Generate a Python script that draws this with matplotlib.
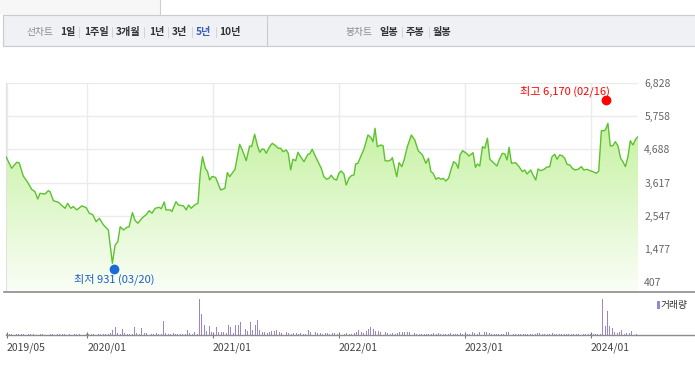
import numpy as np
import pandas as pd
import matplotlib
matplotlib.use('Agg')
from matplotlib import pyplot as plt
from matplotlib.patches import Rectangle
from matplotlib.lines import Line2D
from matplotlib.transforms import offset_copy

plt.rcParams['font.family'] = ['Noto Sans CJK KR', 'DejaVu Sans']

# ---- data -------------------------------------------------------------
# price line (date in decimal years, close)
price_t = [
    2019.356, 2019.401, 2019.441, 2019.461, 2019.493, 2019.525, 2019.560, 2019.586, 2019.608, 2019.626,
    2019.666, 2019.692, 2019.706, 2019.732, 2019.772, 2019.825, 2019.846, 2019.870, 2019.891, 2019.918,
    2019.958, 2019.992, 2020.018, 2020.045, 2020.072, 2020.098, 2020.125, 2020.143, 2020.169, 2020.201,
    2020.223, 2020.244, 2020.263, 2020.289, 2020.316, 2020.334, 2020.360, 2020.382, 2020.403, 2020.435,
    2020.475, 2020.493, 2020.515, 2020.541, 2020.573, 2020.589, 2020.613, 2020.626, 2020.660, 2020.674,
    2020.706, 2020.726, 2020.766, 2020.788, 2020.806, 2020.827, 2020.854, 2020.881, 2020.899, 2020.917,
    2020.939, 2020.957, 2020.973, 2020.992, 2021.008, 2021.021, 2021.061, 2021.095, 2021.114, 2021.133,
    2021.175, 2021.212, 2021.233, 2021.264, 2021.291, 2021.307, 2021.331, 2021.352, 2021.371, 2021.391,
    2021.405, 2021.423, 2021.450, 2021.471, 2021.498, 2021.518, 2021.538, 2021.556, 2021.582, 2021.598,
    2021.617, 2021.635, 2021.657, 2021.675, 2021.696, 2021.723, 2021.754, 2021.768, 2021.788, 2021.815,
    2021.842, 2021.860, 2021.881, 2021.903, 2021.921, 2021.939, 2021.961, 2021.982, 2022.000, 2022.018,
    2022.040, 2022.058, 2022.080, 2022.098, 2022.120, 2022.133, 2022.151, 2022.173, 2022.199, 2022.231,
    2022.253, 2022.271, 2022.287, 2022.305, 2022.332, 2022.351, 2022.367, 2022.391, 2022.412, 2022.425,
    2022.444, 2022.460, 2022.478, 2022.500, 2022.518, 2022.544, 2022.576, 2022.603, 2022.630, 2022.651,
    2022.664, 2022.691, 2022.712, 2022.731, 2022.749, 2022.771, 2022.791, 2022.811, 2022.829, 2022.850,
    2022.871, 2022.890, 2022.911, 2022.930, 2022.948, 2022.962, 2022.983, 2023.013, 2023.034, 2023.066,
    2023.085, 2023.101, 2023.119, 2023.141, 2023.159, 2023.180, 2023.199, 2023.225, 2023.256, 2023.278,
    2023.299, 2023.318, 2023.336, 2023.352, 2023.371, 2023.405, 2023.431, 2023.458, 2023.476, 2023.495,
    2023.524, 2023.542, 2023.564, 2023.582, 2023.603, 2023.630, 2023.649, 2023.675, 2023.693, 2023.715,
    2023.733, 2023.754, 2023.773, 2023.794, 2023.812, 2023.834, 2023.855, 2023.873, 2023.900, 2023.927,
    2023.945, 2023.971, 2023.993, 2024.018, 2024.045, 2024.064, 2024.085, 2024.111, 2024.119, 2024.137,
    2024.156, 2024.177, 2024.196, 2024.217, 2024.238, 2024.256, 2024.276, 2024.296, 2024.315, 2024.336,
    2024.357, 2024.376,
]
price_v = [
    4450, 4076, 4270, 4250, 3828, 3643, 3398, 3320, 3085, 3268,
    3246, 3353, 3320, 3031, 2979, 2785, 2946, 2785, 2840, 2733,
    2862, 2808, 2626, 2581, 2355, 2463, 2279, 2191, 2085, 1010,
    1601, 1708, 2191, 2085, 2170, 2191, 2645, 2388, 2302, 2463,
    2601, 2709, 2626, 2785, 2817, 2770, 2988, 2733, 2733, 2680,
    3000, 2892, 2862, 2733, 2892, 2785, 2892, 2946, 3919, 4450,
    4076, 3968, 3698, 3806, 3800, 3780, 3376, 3430, 3935, 3806,
    4043, 4850, 4667, 4321, 4796, 4774, 5173, 4828, 4592, 4699,
    4690, 4560, 4774, 4882, 4806, 4721, 4721, 4613, 4667, 4560,
    4022, 4367, 4321, 4592, 4450, 4289, 4528, 4540, 4689, 4450,
    4230, 4076, 3806, 3721, 3753, 3852, 3731, 3698, 3914, 3989,
    3892, 3537, 3753, 3837, 3860, 4215, 4237, 4450, 4689, 5151,
    5076, 4935, 5367, 4774, 4828, 4806, 4321, 4311, 4344, 4418,
    4076, 3806, 4257, 4128, 4344, 4774, 5151, 4990, 4645, 4560,
    4505, 4237, 4398, 3968, 3914, 3721, 3774, 3721, 3753, 3666,
    3753, 4022, 4289, 4237, 4076, 4505, 4645, 4560, 4473, 4580,
    4108, 4215, 4150, 4774, 4721, 5044, 4367, 4270, 4150, 4398,
    4560, 4540, 4344, 4753, 4237, 4257, 4128, 3968, 4022, 3892,
    4022, 3860, 3698, 4054, 4000, 4043, 4108, 4128, 4450, 4528,
    4367, 4505, 4485, 4398, 4205, 4183, 4076, 4022, 4043, 4128,
    4022, 4043, 4000, 3968, 3914, 3989, 5290, 5290, 5335, 5528,
    4796, 4806, 4935, 4796, 4398, 4289, 4128, 4450, 4967, 4828,
    5012, 5097,
]

# weekly volume (relative, peak week = 100), first week 2019-05-13
vol_start = '2019-05-13'
volume = [
    3, 3, 2, 0, 3, 3, 3, 2, 3, 3,
    2, 3, 0, 0, 3, 2, 0, 0, 3, 3,
    3, 4, 3, 2, 3, 0, 2, 0, 3, 2,
    3, 0, 2, 3, 3, 3, 2, 3, 3, 2,
    3, 3, 4, 5, 14, 22, 6, 4, 17, 6,
    4, 3, 3, 22, 5, 4, 19, 6, 5, 4,
    4, 3, 5, 3, 3, 38, 5, 4, 3, 6,
    4, 3, 3, 4, 3, 14, 5, 4, 7, 4,
    100, 57, 29, 10, 24, 9, 57, 21, 8, 8,
    7, 6, 29, 21, 6, 27, 29, 35, 19, 17,
    12, 35, 14, 27, 41, 13, 9, 8, 6, 9,
    10, 11, 13, 8, 6, 5, 7, 5, 4, 6,
    5, 4, 5, 3, 4, 14, 9, 7, 8, 6,
    5, 4, 6, 5, 4, 6, 5, 4, 6, 5,
    4, 5, 3, 4, 6, 8, 14, 7, 6, 11,
    17, 21, 16, 11, 11, 7, 4, 9, 6, 4,
    5, 4, 6, 7, 7, 8, 8, 8, 7, 5,
    4, 3, 4, 4, 3, 4, 3, 5, 4, 6,
    4, 3, 4, 3, 5, 4, 3, 4, 5, 3,
    4, 3, 4, 7, 5, 4, 8, 8, 8, 7,
    5, 4, 4, 3, 4, 3, 4, 8, 8, 4,
    3, 4, 3, 3, 4, 3, 3, 4, 3, 3,
    5, 5, 3, 4, 3, 4, 5, 3, 4, 3,
    4, 3, 3, 4, 3, 3, 4, 3, 3, 4,
    3, 3, 4, 3, 4, 3, 4, 100, 26, 67,
    24, 19, 9, 5, 8, 14, 4, 6, 5, 11,
    6, 3,
]

y_ticks = [407, 1477, 2547, 3617, 4688, 5758, 6828]
x_tick_dates = ['2019-05-13', '2020-01-01', '2021-01-01', '2022-01-01', '2023-01-01', '2024-01-01']
x_tick_labels = ['2019/05', '2020/01', '2021/01', '2022/01', '2023/01', '2024/01']

high_date, high_val = '2024-02-16', 6170
low_date, low_val = '2020-03-20', 931

line_menu = ['1일', '1주일', '3개월', '1년', '3년', '5년', '10년']
candle_menu = ['일봉', '주봉', '월봉']


def to_year(dates):
    d = pd.to_datetime(pd.Series(dates))
    days = np.where(d.dt.is_leap_year, 366.0, 365.0)
    return (d.dt.year + (d.dt.dayofyear - 1) / days).to_numpy()


W, H = 695, 369
fig = plt.figure(figsize=(W / 100, H / 100), dpi=100)


def fx(x):
    return x / W


def fy(y):
    return 1 - y / H


# ---- header bars -----------------------------------------------------
fig.add_artist(Rectangle((0, fy(15)), fx(160), 15 / H, transform=fig.transFigure,
                         fc='#f7f7f7', ec='none'))
fig.add_artist(Line2D([fx(160), fx(160)], [fy(0), fy(15)], color='#cfcfcf', lw=0.8))
fig.add_artist(Rectangle((fx(3), fy(46)), fx(700), 31 / H, transform=fig.transFigure,
                         fc='#eff1f4', ec='#c8cbd1', lw=0.8))
fig.add_artist(Line2D([fx(266.5), fx(266.5)], [fy(15), fy(46)], color='#c8cbd1', lw=0.8))

ty = fy(32)
fig.text(fx(27), ty, '선차트', fontsize=7, color='#8a8a8a', va='center')
menu_x = [60, 84, 116, 149, 172, 196, 219]
sep_x = [79, 112, 144, 168, 192, 216]
for lab, x in zip(line_menu, menu_x):
    fig.text(fx(x), ty, lab, fontsize=7.3, fontweight='bold', va='center',
             color='#3a5fb8' if lab == '5년' else '#333333')
fig.text(fx(346), ty, '봉차트', fontsize=7, color='#8a8a8a', va='center')
for lab, x in zip(candle_menu, [379, 406, 433]):
    fig.text(fx(x), ty, lab, fontsize=7.3, fontweight='bold', va='center', color='#333333')
for x in sep_x + [402, 429]:
    fig.add_artist(Line2D([fx(x), fx(x)], [fy(27), fy(37)], color='#d3d5da', lw=0.7))

# ---- price panel -----------------------------------------------------
t = np.array(price_t)
v = np.array(price_v)
y_bottom = 84
ax = fig.add_axes([fx(6), fy(292), fx(638) - fx(6), (292 - 83) / H])
ax.set_xlim(t[0], t[-1])
ax.set_ylim(y_bottom, y_ticks[-1])

poly = ax.fill_between(t, v, y_bottom, facecolor='none', edgecolor='none')
top_c = np.array([186, 239, 142]) / 255
bot_c = np.array([250, 254, 247]) / 255
ramp = np.linspace(0, 1, 256)[:, None]
grad = (bot_c[None, :] * (1 - ramp) + top_c[None, :] * ramp)[:, None, :]
im = ax.imshow(grad, extent=[t[0], t[-1], y_bottom, y_ticks[-1]], origin='lower',
               aspect='auto', zorder=1)
im.set_clip_path(poly.get_paths()[0], transform=ax.transData)
ax.plot(t, v, color='#5cc22e', lw=1.0, zorder=3)

xt = to_year(x_tick_dates)
ax.set_xticks(xt)
ax.set_yticks(y_ticks)
ax.set_yticklabels([f'{y:,}' for y in y_ticks])
ax.yaxis.tick_right()
ax.tick_params(axis='y', length=0, pad=4.5, labelsize=7.5, labelcolor='#666666')
ax.tick_params(axis='x', length=0, labelbottom=False)
ax.grid(True, color='#ebebeb', lw=1.0, zorder=0)
ax.set_axisbelow(True)
for s in ['top', 'right', 'bottom']:
    ax.spines[s].set_visible(False)
ax.spines['left'].set_color('#e2e2e2')

hx = to_year([high_date])[0]
lx = to_year([low_date])[0]
ax.plot([hx], [high_val], 'o', ms=6, color='#ff0000', zorder=5,
        transform=offset_copy(ax.transData, fig=fig, x=0, y=3, units='dots'))
ax.plot([lx], [low_val], 'o', ms=6, color='#1c6ad6', zorder=5,
        transform=offset_copy(ax.transData, fig=fig, x=0, y=-3, units='dots'))
ax.annotate(f'최고 {high_val:,} ({high_date[5:7]}/{high_date[8:]})', (hx, high_val),
            xytext=(3, 12.5), textcoords='offset pixels', ha='right', va='center',
            fontsize=8, color='#ff0000', annotation_clip=False)
ax.annotate(f'최저 {low_val:,} ({low_date[5:7]}/{low_date[8:]})', (lx, low_val),
            xytext=(0, -13), textcoords='offset pixels', ha='center', va='center',
            fontsize=8, color='#1c5fc4', annotation_clip=False)

# ---- volume panel ----------------------------------------------------
vt = to_year(pd.date_range(vol_start, periods=len(volume), freq='7D'))
axv = fig.add_axes([fx(6), fy(335), fx(638) - fx(6), (335 - 293) / H])
axv.bar(vt, volume, width=0.0075, color='#9b86c9', lw=0)
axv.set_xlim(t[0], t[-1])
axv.set_ylim(0, 116)
axv.set_yticks([])
axv.set_xticks(xt)
axv.set_xticklabels(x_tick_labels, ha='left')
axv.tick_params(axis='x', direction='inout', length=5, width=0.8, color='#777777',
                labelsize=7.5, labelcolor='#444444', pad=3)
for s in axv.spines.values():
    s.set_visible(False)

fig.add_artist(Line2D([fx(4), fx(695)], [fy(292), fy(292)], color='#8c8c8c', lw=1.2))
fig.add_artist(Line2D([fx(6), fx(695)], [fy(335), fy(335)], color='#8c8c8c', lw=1.0))

# volume legend
fig.add_artist(Rectangle((fx(656.5), fy(309)), 3 / W, 8.5 / H, transform=fig.transFigure,
                         fc='#9b86c9', ec='none'))
fig.text(fx(661), fy(305), '거래량', fontsize=7, color='#333333', va='center')

fig.savefig('out.png', dpi=100)
